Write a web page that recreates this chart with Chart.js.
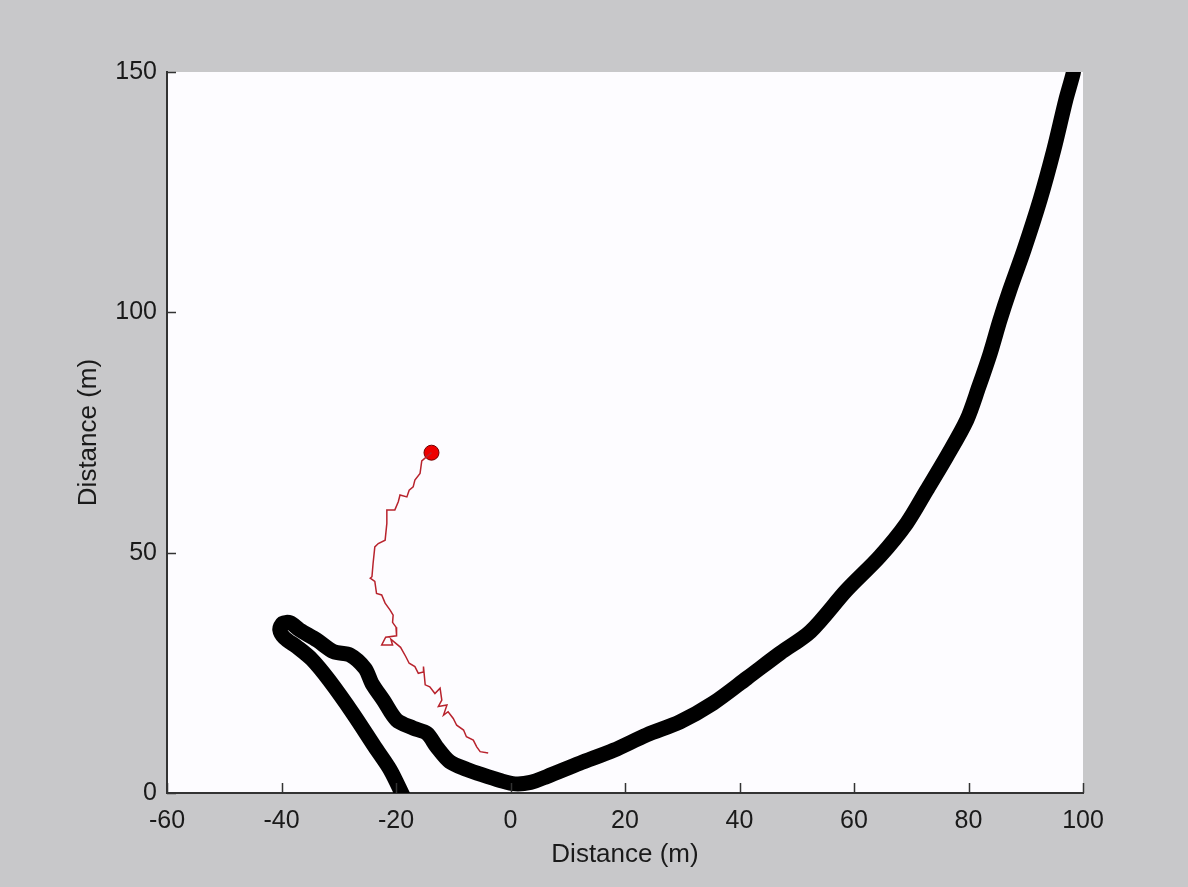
<!DOCTYPE html>
<html>
<head>
<meta charset="utf-8">
<script src="https://cdn.jsdelivr.net/npm/chart.js@4/dist/chart.umd.min.js"></script>
<style>
  html, body { margin: 0; padding: 0; background: #c8c8ca; }
  canvas { display: block; }
</style>
</head>
<body>
<canvas id="c" width="1188" height="887"></canvas>
<script>
// Black track (x, y in metres)
const trackX = [-18.6, -21.0, -23.7, -27.5, -31.7, -34.7, -37.3, -39.5, -40.3, -39.8, -38.5, -36.8, -33.8, -30.9, -28.0, -25.4, -24.2, -22.2, -19.9, -17.0, -14.6, -12.9, -10.6, -7.6, -5.0, -1.8, 0.8, 3.5, 6.3, 12.1, 18.0, 23.8, 29.6, 35.4, 41.3, 47.1, 52.4, 58.7, 64.5, 69.2, 72.7, 76.2, 79.7, 81.8, 83.8, 85.5, 87.2, 89.7, 92.5, 94.9, 97.0, 98.3, 98.4];
const trackY = [-1.0, 4.8, 9.6, 16.5, 23.5, 27.8, 30.4, 32.3, 34.0, 35.3, 35.4, 33.9, 31.8, 29.4, 28.7, 25.9, 22.8, 19.3, 15.2, 13.5, 12.4, 9.6, 6.5, 4.9, 3.8, 2.6, 1.9, 2.2, 3.4, 6.2, 8.9, 12.1, 14.8, 18.7, 23.9, 29.1, 33.6, 42.2, 49.2, 56.1, 63.0, 70.0, 77.6, 84.5, 91.5, 98.4, 104.6, 113.0, 123.4, 133.8, 144.2, 149.8, 151.0];

// Red estimated path
const pathX = [-13.8, -15.5, -15.8, -16.7, -17.0, -17.7, -18.1, -19.3, -19.6, -20.2, -21.6, -21.6, -21.9, -23.1, -23.7, -24.0, -24.2, -24.5, -23.7, -23.4, -22.5, -21.9, -21.0, -20.5, -20.6, -20.0, -19.9, -21.8, -22.5, -20.6, -20.9, -19.2, -18.3, -17.7, -16.7, -16.1, -15.2, -15.2, -14.9, -14.1, -13.2, -12.3, -12.0, -12.6, -11.1, -11.7, -10.9, -10.0, -9.4, -8.2, -7.7, -6.5, -5.9, -5.3, -3.9];
const pathY = [70.8, 69.1, 66.5, 65.1, 63.7, 63.0, 61.6, 62.0, 60.6, 58.9, 58.9, 56.1, 52.6, 51.9, 51.2, 47.8, 45.0, 44.7, 44.0, 41.5, 41.2, 39.5, 38.0, 37.0, 35.5, 34.5, 32.7, 32.4, 30.8, 30.8, 32.0, 30.3, 28.4, 27.0, 26.3, 24.9, 25.2, 26.3, 22.5, 22.1, 20.7, 21.8, 19.3, 18.0, 18.3, 16.2, 16.9, 15.5, 14.1, 13.1, 11.7, 11.0, 9.6, 8.6, 8.3];

// Current position marker
const dotX = [-13.8];
const dotY = [70.8];

const xTicks = [-60, -40, -20, 0, 20, 40, 60, 80, 100];
const yTicks = [0, 50, 100, 150];

const zip = (xs, ys) => xs.map((x, i) => ({ x, y: ys[i] }));

const FONT = "'Liberation Sans', Arial, sans-serif";

const bgPlugin = {
  id: 'plotBg',
  beforeDraw(chart) {
    const { ctx, chartArea: a } = chart;
    ctx.save();
    ctx.fillStyle = '#fdfcff';
    ctx.fillRect(a.left, a.top, a.right - a.left, a.bottom - a.top);
    ctx.restore();
  }
};

const inwardTicks = {
  id: 'inwardTicks',
  afterDraw(chart) {
    const { ctx, chartArea: a, scales: { x, y } } = chart;
    ctx.save();
    ctx.strokeStyle = '#333';
    ctx.lineWidth = 1.5;
    ctx.beginPath();
    x.ticks.forEach(t => {
      const px = Math.round(x.getPixelForValue(t.value)) + 0.5;
      ctx.moveTo(px, a.bottom);
      ctx.lineTo(px, a.bottom - 10);
    });
    y.ticks.forEach(t => {
      const py = Math.round(y.getPixelForValue(t.value)) + 0.5;
      ctx.moveTo(a.left, py);
      ctx.lineTo(a.left + 9, py);
    });
    ctx.stroke();
    ctx.restore();
  }
};

new Chart(document.getElementById('c'), {
  type: 'scatter',
  data: {
    datasets: [
      {
        data: zip(trackX, trackY),
        showLine: true,
        borderColor: '#000',
        borderWidth: 15,
        borderCapStyle: 'butt',
        borderJoinStyle: 'round',
        pointRadius: 0,
        tension: 0.3,
        clip: 0
      },
      {
        data: zip(pathX, pathY),
        showLine: true,
        borderColor: '#b8232d',
        borderWidth: 1.5,
        pointRadius: 0,
        tension: 0,
        clip: 0
      },
      {
        data: zip(dotX, dotY),
        showLine: false,
        pointRadius: 7.5,
        pointBackgroundColor: '#ee0000',
        pointBorderColor: '#700000',
        pointBorderWidth: 1
      }
    ]
  },
  options: {
    responsive: false,
    animation: false,
    events: [],
    layout: { padding: { top: 72, right: 105, left: 0, bottom: 0 } },
    plugins: { legend: { display: false }, tooltip: { enabled: false } },
    scales: {
      x: {
        type: 'linear',
        min: -60, max: 100,
        afterBuildTicks: s => { s.ticks = xTicks.map(v => ({ value: v })); },
        afterFit: s => { s.height = 94; },
        grid: { display: false, drawTicks: false },
        border: { display: true, color: '#333', width: 2 },
        ticks: { color: '#1a1a1a', font: { family: FONT, size: 25 }, padding: 13, maxRotation: 0 },
        title: { display: true, text: 'Distance (m)', color: '#1a1a1a', font: { family: FONT, size: 26 }, padding: { top: 0, bottom: 17 } }
      },
      y: {
        type: 'linear',
        min: 0, max: 150,
        afterBuildTicks: s => { s.ticks = yTicks.map(v => ({ value: v })); },
        afterFit: s => { s.width = 167; },
        grid: { display: false, drawTicks: false },
        border: { display: true, color: '#333', width: 2 },
        ticks: { color: '#1a1a1a', font: { family: FONT, size: 25 }, padding: 10 },
        title: { display: true, text: 'Distance (m)', color: '#1a1a1a', font: { family: FONT, size: 26 }, padding: { top: 73, bottom: 0 } }
      }
    }
  },
  plugins: [bgPlugin, inwardTicks]
});
</script>
</body>
</html>
